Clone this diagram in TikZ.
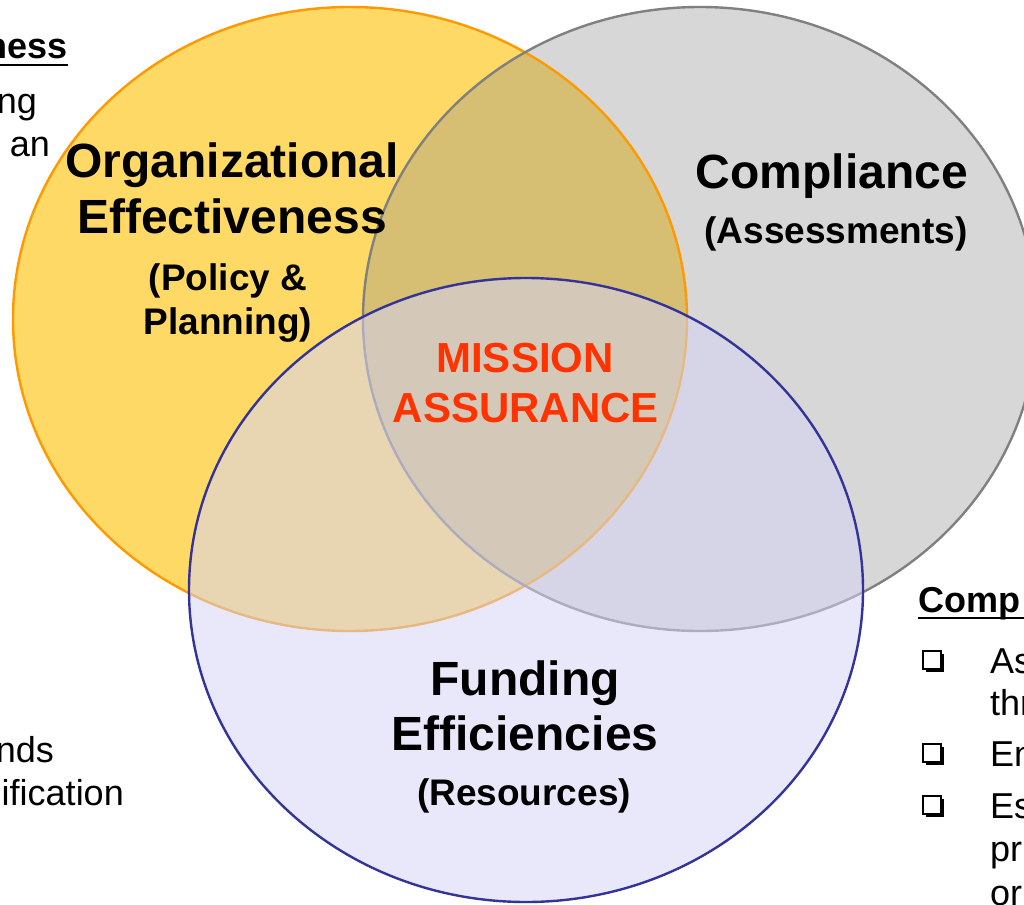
\documentclass[tikz,border=0pt]{standalone}
\usepackage{fontspec}
\setmainfont{Liberation Sans}
\usetikzlibrary{shadows}

\definecolor{orgfill}{RGB}{255,217,102}
\definecolor{orgline}{RGB}{255,153,0}
\definecolor{compfill}{RGB}{140,140,140}
\definecolor{compline}{RGB}{128,128,128}
\definecolor{fundfill}{RGB}{212,212,246}
\definecolor{fundline}{RGB}{51,51,153}
\definecolor{missionred}{RGB}{255,51,0}

\begin{document}
\begin{tikzpicture}[x=1pt, y=-1pt,
	venn/.style={x radius=337pt, y radius=312pt},
	title/.style={font=\bfseries\fontsize{48}{55}\selectfont, anchor=base, inner sep=0pt},
	subtitle/.style={font=\bfseries\fontsize{37}{44}\selectfont, anchor=base, inner sep=0pt},
	side/.style={font=\fontsize{36}{43}\selectfont, inner sep=0pt},
	tickbox/.style={draw, fill=white, line width=1.3pt, minimum size=18pt, inner sep=0pt,
		drop shadow={shadow xshift=2.5pt, shadow yshift=-2.5pt, opacity=1, fill=black}}]
	\useasboundingbox (0,0) rectangle (1024,904);
	\clip (0,0) rectangle (1024,904);

	% the three circles
	\fill[orgfill] (350,319) ellipse [venn];
	\fill[compfill, fill opacity=0.35] (700,319) ellipse [venn];
	\draw[orgline, line width=2.4pt] (350,319) ellipse [venn];
	\draw[compline, line width=2.4pt] (700,319) ellipse [venn];
	\fill[fundfill, fill opacity=0.53] (526,590) ellipse [venn];
	\draw[fundline, line width=2.4pt] (526,590) ellipse [venn];

	% circle titles
	\node[title] (org1) at (232,178) {Organizational};
	\node[title] (org2) at (232,233) {Effectiveness};
	\node[subtitle] (org3) at (228,290) {(Policy \&};
	\node[subtitle] (org4) at (228,334) {Planning)};

	\node[title] (comp1) at (832,188) {Compliance};
	\node[subtitle] (comp2) at (836,243) {(Assessments)};

	\node[title] (fund1) at (525,695) {Funding};
	\node[title] (fund2) at (525,750) {Efficiencies};
	\node[subtitle] (fund3) at (524,805) {(Resources)};

	\node[title, font=\bfseries\fontsize{42}{50}\selectfont, text=missionred] (mis1) at (525,372) {MISSION};
	\node[title, font=\bfseries\fontsize{42}{50}\selectfont, text=missionred] (mis2) at (526,422) {ASSURANCE};

	% text running in from the left
	\node[side, anchor=base east, font=\bfseries\fontsize{36}{43}\selectfont] (lhead) at (68,59) {ness};
	\draw[line width=2.5pt] (0,65) -- (lhead.base east |- 0,65);
	\node[side, anchor=base east] (l1) at (37,114) {ng};
	\node[side, anchor=base east] (l2) at (50,157) {an};
	\node[side, anchor=base east] (l3) at (54,762) {nds};
	\node[side, anchor=base east] (l4) at (124,805) {ification};

	% compliance list on the right
	\node[side, anchor=base west, font=\bfseries\fontsize{36}{43}\selectfont] (rhead) at (918,612) {Comp};
	\draw[line width=2.5pt] (rhead.base west |- 0,618) -- (1024,618);
	\node[tickbox] (box1) at (932,660) {};
	\node[tickbox] (box2) at (932,753) {};
	\node[tickbox] (box3) at (932,805) {};
	\node[side, anchor=base west] (r1) at (990,673) {As};
	\node[side, anchor=base west] (r2) at (990,715) {thr};
	\node[side, anchor=base west] (r3) at (990,766) {En};
	\node[side, anchor=base west] (r4) at (990,818) {Es};
	\node[side, anchor=base west] (r5) at (990,861) {pr};
	\node[side, anchor=base west] (r6) at (990,905) {or};
\end{tikzpicture}
\end{document}
